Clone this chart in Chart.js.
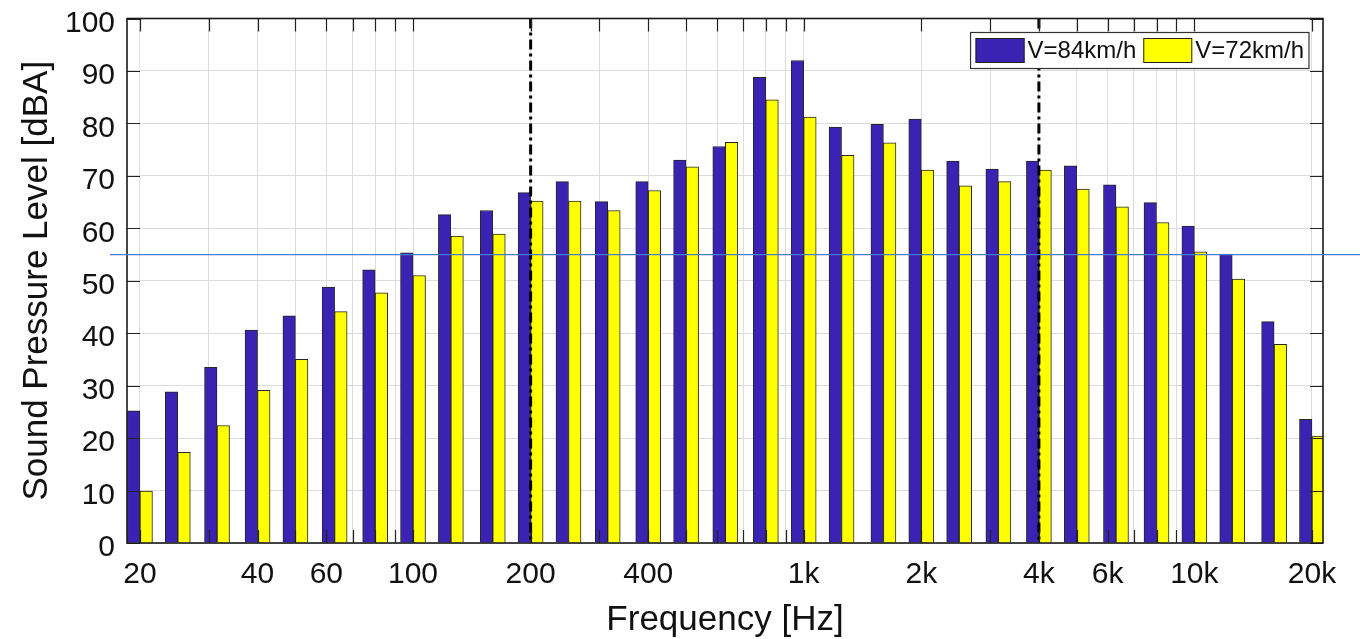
<!DOCTYPE html>
<html><head><meta charset="utf-8">
<script src="https://cdn.jsdelivr.net/npm/chart.js@4/dist/chart.umd.min.js"></script>
<style>html,body{margin:0;padding:0;background:#fff;overflow:hidden;}canvas{display:block;}</style>
</head><body>
<canvas id="c" width="1360" height="639"></canvas>
<script>
// third-octave band centre frequencies (Hz)
const bandFreqs = [20,25,31.5,40,50,63,80,100,125,160,200,250,315,400,500,630,800,1000,1250,1600,2000,2500,3150,4000,5000,6300,8000,10000,12500,16000,20000];
// sound pressure level, dBA
const spl84 = [25.2,28.8,33.5,40.6,43.3,48.8,52.1,55.3,62.6,63.4,66.8,68.9,65.1,68.9,73.0,75.6,88.8,92.0,79.3,79.8,80.8,72.8,71.3,72.8,71.9,68.3,64.9,60.4,55.1,42.2,23.6];
const spl72 = [9.9,17.3,22.4,29.1,35.0,44.1,47.7,51.0,58.5,58.9,65.2,65.2,63.4,67.2,71.7,76.4,84.5,81.2,73.9,76.3,71.1,68.1,68.9,71.1,67.5,64.1,61.1,55.5,50.3,37.9,20.4];
const seriesNames = ['V=84km/h','V=72km/h'];
const seriesColors = ['#3a23b2','#ffff00'];
// x grid (log) and labelled ticks
const gridFreqs = [20,30,40,50,60,70,80,90,100,200,300,400,500,600,700,800,900,1000,2000,3000,4000,5000,6000,7000,8000,9000,10000,20000];
const xTickValues = [20,40,60,100,200,400,1000,2000,4000,6000,10000,20000];
const xTickLabels = ['20','40','60','100','200','400','1k','2k','4k','6k','10k','20k'];
const yTickValues = [0,10,20,30,40,50,60,70,80,90,100];
const markerFreqs = [200,4000];
const refLevel = 55;

const FONT = "'Liberation Sans', Arial, Helvetica, sans-serif";
Chart.defaults.font.family = FONT;
Chart.defaults.color = '#111';

const decor = {
  id: 'decor',
  afterDatasetsDraw(chart) {
    const {ctx, chartArea: a, scales: {x, y}} = chart;
    ctx.save();
    // dash-dot band markers
    ctx.strokeStyle = '#000'; ctx.lineWidth = 3; ctx.setLineDash([10,4,3,4]);
    markerFreqs.forEach(f => {
      const px = x.getPixelForValue(f);
      ctx.beginPath(); ctx.moveTo(px, a.top); ctx.lineTo(px, a.bottom); ctx.stroke();
    });
    ctx.setLineDash([]);
    // inward ticks
    ctx.strokeStyle = '#222'; ctx.lineWidth = 1.2;
    const L = 13;
    gridFreqs.forEach(f => {
      const px = Math.round(x.getPixelForValue(f)) + 0.5;
      ctx.beginPath();
      ctx.moveTo(px, a.bottom); ctx.lineTo(px, a.bottom - L);
      ctx.moveTo(px, a.top); ctx.lineTo(px, a.top + L);
      ctx.stroke();
    });
    yTickValues.forEach(v => {
      const py = Math.round(y.getPixelForValue(v)) + 0.5;
      ctx.beginPath();
      ctx.moveTo(a.left, py); ctx.lineTo(a.left + L, py);
      ctx.moveTo(a.right, py); ctx.lineTo(a.right - L, py);
      ctx.stroke();
    });
    // axes box
    ctx.strokeStyle = '#1a1a1a'; ctx.lineWidth = 1.6;
    ctx.strokeRect(a.left, a.top, a.right - a.left, a.bottom - a.top);
    // legend
    ctx.font = '24px ' + FONT;
    const sw = 49, sh = 25, pad = 5, gap = 3, sep = 7;
    const tw = seriesNames.map(n => ctx.measureText(n).width);
    const W = pad * 2 + seriesNames.length * (sw + gap) + tw.reduce((s, w) => s + w, 0) + sep * (seriesNames.length - 1);
    const H = 36;
    const bx = a.right - 14 - W, by = a.top + 14;
    ctx.fillStyle = '#fff'; ctx.fillRect(bx, by, W, H);
    ctx.strokeStyle = '#333'; ctx.lineWidth = 1.2; ctx.strokeRect(bx, by, W, H);
    let cx = bx + pad;
    seriesNames.forEach((n, i) => {
      ctx.fillStyle = seriesColors[i];
      ctx.fillRect(cx, by + (H - sh) / 2, sw, sh);
      ctx.strokeStyle = '#222'; ctx.lineWidth = 1;
      ctx.strokeRect(cx + 0.5, by + (H - sh) / 2 + 0.5, sw - 1, sh - 1);
      cx += sw + gap;
      ctx.fillStyle = '#111'; ctx.textBaseline = 'middle'; ctx.textAlign = 'left';
      ctx.fillText(n, cx, by + H / 2 + 1);
      cx += tw[i] + sep;
    });
    // thin blue reference line
    const ry = y.getPixelForValue(refLevel);
    ctx.strokeStyle = '#4a7bd0'; ctx.lineWidth = 1.3;
    ctx.beginPath(); ctx.moveTo(110, ry); ctx.lineTo(chart.width, ry); ctx.stroke();
    ctx.restore();
  }
};

new Chart(document.getElementById('c'), {
  type: 'bar',
  data: {
    labels: bandFreqs,
    datasets: [
      {label: seriesNames[0], data: spl84, backgroundColor: seriesColors[0], borderColor: '#262626', borderWidth: 1},
      {label: seriesNames[1], data: spl72, backgroundColor: seriesColors[1], borderColor: '#262626', borderWidth: 1}
    ]
  },
  options: {
    responsive: false,
    devicePixelRatio: 1,
    animation: false,
    barThickness: 12.5,
    layout: {padding: {top: 18.5, right: 37, left: 0, bottom: 0}},
    plugins: {legend: {display: false}, tooltip: {enabled: false}},
    scales: {
      x: {
        type: 'logarithmic',
        min: 18.53, max: 21343,
        offset: false,
        grid: {offset: false, color: '#dcdcdc', lineWidth: 1, drawTicks: false},
        border: {display: false},
        afterBuildTicks: s => { s.ticks = gridFreqs.map(v => ({value: v})); },
        afterFit: s => { s.height = 96; },
        ticks: {
          autoSkip: false, maxRotation: 0, minRotation: 0, padding: 14,
          font: {size: 30}, color: '#111',
          callback: v => { const i = xTickValues.indexOf(v); return i >= 0 ? xTickLabels[i] : ''; }
        },
        title: {display: true, text: 'Frequency [Hz]', font: {size: 35, lineHeight: 1}, color: '#111', padding: {top: 0, bottom: 1.5}}
      },
      y: {
        type: 'linear',
        min: 0, max: 100,
        grid: {color: '#dcdcdc', lineWidth: 1, drawTicks: false},
        border: {display: false},
        afterBuildTicks: s => { s.ticks = yTickValues.map(v => ({value: v})); },
        afterFit: s => { s.width = 127; s.paddingTop = 0; s.paddingBottom = 0; },
        ticks: {
          padding: 12, font: {size: 30, lineHeight: '10px'}, color: '#111',
          callback: v => ['', String(v)]
        },
        title: {display: true, text: 'Sound Pressure Level [dBA]', font: {size: 35}, color: '#111', padding: {top: 16, bottom: 0}}
      }
    }
  },
  plugins: [decor]
});
</script>
</body></html>
